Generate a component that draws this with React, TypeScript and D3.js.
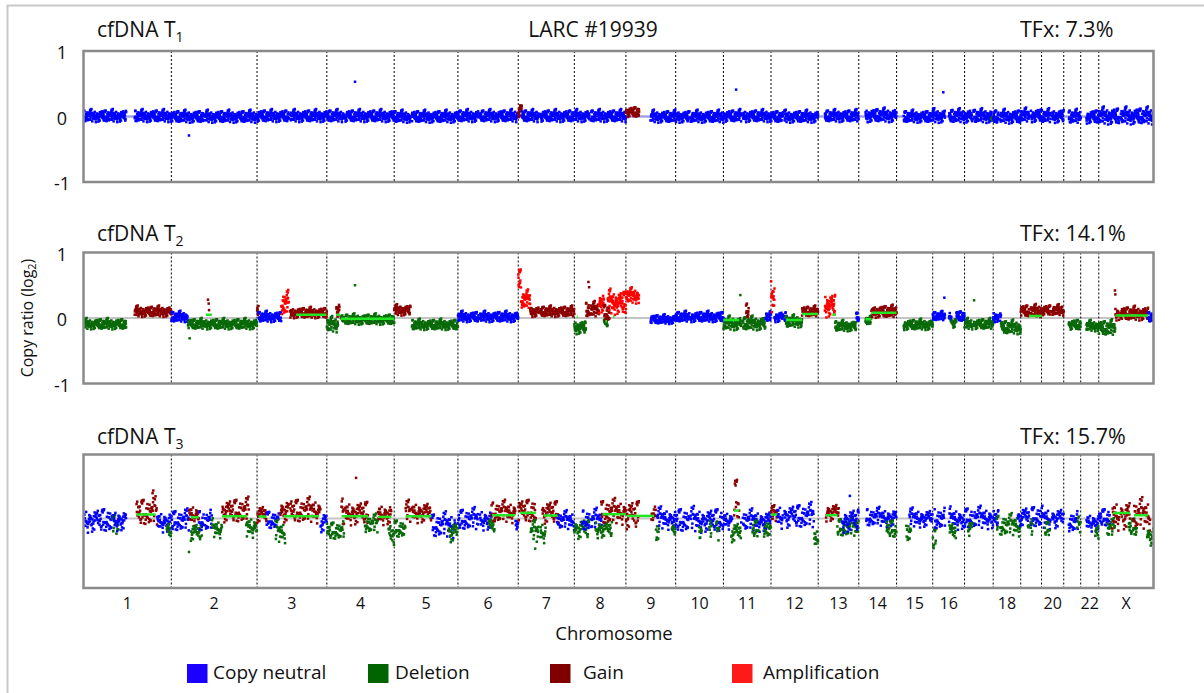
import React, { useMemo } from 'react';
import * as d3 from 'd3';

type Seg = [string, number, number, number, number, string];
type SegLine = [string, number, number, number];
type Outlier = [string, number, number, string];

// ---------------- DATA ----------------
const chromosomes = ['1','2','3','4','5','6','7','8','9','10','11','12','13','14','15','16','17','18','19','20','21','22','X'];
const chromLengthsMb = [249.25,243.2,198.0,191.15,180.9,171.1,159.1,146.4,141.2,135.5,135.0,133.85,115.2,107.35,102.5,90.35,81.2,78.1,59.1,63.0,48.1,51.3,155.3];
const chromTickLabels = ['1','2','3','4','5','6','7','8','9','10','11','12','13','14','15','16','','18','','20','','22','X'];
// unmappable regions (no bins): [chrom, startMb, endMb]
const gapsMb: [string, number, number][] = [
  ['1',121,145],['2',92,95],['3',90,94],['4',49,52],['5',46,50],['6',58,62],['7',58,62],['8',43,47],
  ['9',38,70],['10',39,42],['11',51,55],['12',34,38],['13',0,19],['14',0,19],['15',0,20],['16',35,46],
  ['17',22,25],['18',15,19],['19',24,28],['20',26,30],['21',0,14],['22',0,16],['X',58,62],
];

const sampleName = 'LARC #19939';
const panelNames = ['cfDNA T', 'cfDNA T', 'cfDNA T'];
const panelSubscripts = ['1', '2', '3'];
const tumorFractions = ['TFx: 7.3%', 'TFx: 14.1%', 'TFx: 15.7%'];
const yTickValues = [1, 0, -1];
const stateKeys = ['N', 'D', 'G', 'A'];
const stateNames = ['Copy neutral', 'Deletion', 'Gain', 'Amplification'];

// segments: [chrom, startMb, endMb, mean log2 ratio, spread, state]
const segmentsT1: Seg[] = [
  ['1',0,249.25,0.01,0.04,'N'], ['2',0,243.2,0.0,0.04,'N'], ['3',0,198,0.01,0.04,'N'],
  ['4',0,191.15,0.01,0.04,'N'], ['5',0,180.9,0.0,0.04,'N'], ['6',0,171.1,0.01,0.04,'N'],
  ['7',0,10,0.1,0.05,'G'], ['7',10,159.1,0.01,0.04,'N'], ['8',0,146.4,0.01,0.04,'N'],
  ['9',0,38,0.07,0.035,'G'], ['9',70,141.2,0.0,0.04,'N'], ['10',0,135.5,0.0,0.04,'N'],
  ['11',0,135,0.01,0.04,'N'], ['12',0,133.85,0.0,0.04,'N'], ['13',19,115.2,0.01,0.04,'N'],
  ['14',19,107.35,0.02,0.045,'N'], ['15',20,102.5,0.0,0.04,'N'], ['16',0,90.35,0.01,0.045,'N'],
  ['17',0,76,0.01,0.045,'N'], ['17',76,81.2,-0.05,0.02,'D'], ['18',0,78.1,0.0,0.045,'N'],
  ['19',0,59.1,0.02,0.045,'N'], ['20',0,63,0.01,0.045,'N'], ['21',14,48.1,0.0,0.045,'N'],
  ['22',16,51.3,0.0,0.045,'N'], ['X',0,155.3,0.01,0.055,'N'],
];
const segmentsT2: Seg[] = [
  ['1',0,121,-0.09,0.035,'D'], ['1',145,249.25,0.1,0.035,'G'],
  ['2',0,47,0.02,0.035,'N'], ['2',47,243.2,-0.09,0.035,'D'],
  ['3',0,4,0.12,0.04,'G'], ['3',4,69,0.02,0.035,'N'], ['3',69,92,0.22,0.08,'A'], ['3',92,198,0.08,0.035,'G'],
  ['4',0,32,-0.1,0.05,'D'], ['4',27,36,0.13,0.05,'G'], ['4',40,191.15,-0.02,0.035,'D'],
  ['5',0,46,0.12,0.035,'G'], ['5',46,180.9,-0.1,0.035,'D'],
  ['6',0,171.1,0.02,0.035,'N'],
  ['7',0,8,0.6,0.07,'A'], ['7',8,34,0.28,0.06,'A'], ['7',34,159.1,0.1,0.035,'G'],
  ['8',0,33,-0.14,0.045,'D'], ['8',33,70,0.13,0.05,'G'], ['8',70,84,0.24,0.07,'A'], ['8',84,95,-0.07,0.03,'D'],
  ['8',84,100,0.08,0.06,'G'], ['8',95,146.4,0.24,0.08,'A'],
  ['9',0,37,0.34,0.05,'A'], ['9',70,141.2,-0.02,0.03,'N'],
  ['10',0,135.5,0.02,0.035,'N'],
  ['11',0,120,-0.08,0.045,'D'], ['11',64,72,0.12,0.05,'G'], ['11',120,135,0.02,0.035,'N'],
  ['12',0,10,0.3,0.1,'A'], ['12',10,42,0.02,0.035,'N'], ['12',42,88,-0.05,0.04,'D'], ['12',88,133.85,0.1,0.035,'G'],
  ['13',17,48,0.2,0.08,'A'], ['13',48,108,-0.12,0.035,'D'], ['13',108,115.2,0.02,0.03,'N'],
  ['14',19,36,-0.04,0.03,'D'], ['14',36,107.35,0.1,0.04,'G'],
  ['15',20,102.5,-0.1,0.035,'D'],
  ['16',0,53,0.03,0.03,'N'], ['16',53,67,-0.07,0.035,'D'], ['16',67,90.35,0.03,0.035,'N'],
  ['17',0,81.2,-0.09,0.035,'D'],
  ['18',0,22,0.02,0.035,'N'], ['18',22,78.1,-0.14,0.045,'D'],
  ['19',0,59.1,0.11,0.04,'G'], ['20',0,63,0.12,0.035,'G'],
  ['21',14,48.1,-0.1,0.035,'D'], ['22',16,51.3,-0.12,0.035,'D'],
  ['X',0,47,-0.15,0.05,'D'], ['X',47,140,0.07,0.045,'G'], ['X',140,155.3,0.02,0.035,'N'],
];
const segmentsT3: Seg[] = [
  ['1',0,85,-0.02,0.08,'N'], ['1',82,100,-0.1,0.06,'D'], ['1',85,121,-0.02,0.07,'N'], ['1',150,209,0.1,0.09,'G'],
  ['1',209,247,-0.04,0.07,'N'], ['1',236,249.25,-0.2,0.07,'D'],
  ['2',0,50,-0.03,0.07,'N'], ['2',50,78,0.06,0.07,'G'], ['2',55,87,-0.2,0.06,'D'], ['2',78,115,-0.03,0.07,'N'],
  ['2',115,144,-0.15,0.06,'D'], ['2',144,220,0.12,0.08,'G'], ['2',212,243.2,-0.12,0.07,'D'],
  ['3',0,27,0.07,0.06,'G'], ['3',27,62,-0.02,0.06,'N'], ['3',52,80,-0.2,0.07,'D'], ['3',66,180,0.12,0.08,'G'],
  ['3',180,198,-0.05,0.07,'N'],
  ['4',0,52,-0.18,0.06,'D'], ['4',41,117,0.09,0.08,'G'], ['4',108,145,-0.08,0.06,'D'], ['4',145,183,0.07,0.07,'G'],
  ['4',175,191.15,-0.25,0.08,'D'],
  ['5',0,32,-0.15,0.06,'D'], ['5',32,106,0.1,0.07,'G'], ['5',106,174,-0.1,0.08,'N'], ['5',155,180.9,-0.2,0.07,'D'],
  ['6',0,95,-0.01,0.07,'N'], ['6',87,106,-0.1,0.05,'D'], ['6',95,163,0.1,0.07,'G'], ['6',163,171.1,-0.05,0.05,'N'],
  ['7',0,50,0.12,0.08,'G'], ['7',35,78,-0.2,0.07,'D'], ['7',68,116,0.1,0.08,'G'], ['7',110,159.1,-0.03,0.06,'N'],
  ['8',0,42,-0.15,0.07,'D'], ['8',22,78,-0.02,0.07,'N'], ['8',60,107,-0.15,0.06,'D'], ['8',76,146.4,0.1,0.08,'G'],
  ['9',0,37,0.06,0.1,'G'], ['9',72,85,0.1,0.06,'G'], ['9',85,94,-0.2,0.07,'D'], ['9',88,141.2,0.0,0.07,'N'],
  ['9',130,141.2,-0.2,0.06,'D'],
  ['10',0,135.5,-0.02,0.08,'N'], ['10',66,74,-0.2,0.06,'D'], ['10',95,102,-0.18,0.06,'D'], ['10',115,123,-0.2,0.06,'D'],
  ['11',0,25,-0.02,0.06,'N'], ['11',22,50,-0.2,0.07,'D'], ['11',30,45,0.3,0.14,'G'], ['11',50,135,-0.03,0.07,'N'],
  ['11',82,100,-0.15,0.06,'D'], ['11',115,135,-0.15,0.06,'D'],
  ['12',0,17,0.07,0.05,'G'], ['12',17,122,0.04,0.08,'N'], ['12',122,133.85,-0.3,0.07,'D'],
  ['13',22,59,0.1,0.06,'G'], ['13',54,115.2,-0.13,0.06,'D'], ['13',68,115.2,-0.02,0.08,'N'],
  ['14',21,107.35,0.02,0.06,'N'], ['14',78,107.35,-0.15,0.06,'D'],
  ['15',27,41,-0.2,0.07,'D'], ['15',36,102.5,0.01,0.06,'N'],
  ['16',0,10,-0.3,0.08,'D'], ['16',5,90.35,0.0,0.07,'N'], ['16',47,66,-0.2,0.07,'D'],
  ['17',0,81.2,0.01,0.07,'N'], ['17',10,24,-0.15,0.06,'D'],
  ['18',0,19,0.01,0.06,'N'], ['18',10,78.1,-0.1,0.07,'D'], ['18',70,78.1,0.02,0.06,'N'],
  ['19',0,59.1,0.03,0.07,'N'], ['19',20,34,-0.15,0.06,'D'],
  ['20',0,63,0.01,0.07,'N'], ['20',9,23,-0.15,0.05,'D'],
  ['21',14,40,-0.05,0.07,'N'], ['21',38,48.1,-0.1,0.05,'D'],
  ['22',16,51.3,-0.05,0.06,'N'], ['22',41,51.3,-0.25,0.08,'D'],
  ['X',0,32,0.02,0.06,'N'], ['X',24,46,-0.15,0.06,'D'], ['X',38,89,0.06,0.1,'G'], ['X',84,109,-0.12,0.06,'D'],
  ['X',98,146,0.06,0.1,'G'], ['X',137,155.3,-0.25,0.07,'D'],
];

// called segment means drawn as bright green lines: [chrom, startMb, endMb, value]
const segLinesT1: SegLine[] = [];
const segLinesT2: SegLine[] = [
  ['2',98,115,0.05], ['3',111,197,0.05], ['4',27,38,0.05], ['4',40,191,-0.01], ['8',7,10,0.02], ['8',88,93,-0.05],
  ['8',110,114,0.02], ['11',0,45,-0.03], ['12',42,88,-0.03], ['12',88,133,0.06], ['13',40,50,0.05],
  ['14',19,36,-0.02], ['14',36,107,0.08], ['19',24,59,0.03], ['X',47,140,0.04],
];
const segLinesT3: SegLine[] = [
  ['1',150,205,0.06], ['2',55,78,0.02], ['2',144,215,0.035], ['3',4,27,0.03], ['3',75,176,0.035],
  ['4',42,117,0.035], ['4',145,183,0.025], ['5',32,106,0.035], ['6',97,163,0.05], ['7',5,50,0.085],
  ['7',72,112,0.045], ['8',80,146,0.065], ['9',3,80,0.04], ['11',30,45,0.12], ['12',0,17,0.06],
  ['13',22,55,0.05], ['X',40,89,0.085], ['X',100,140,0.05],
];

// isolated bins: [chrom, positionMb, value, state]
const outliersT1: Outlier[] = [['2',50,-0.29,'N'], ['4',80,0.53,'N'], ['11',36,0.41,'N'], ['16',30,0.37,'N']];
const outliersT2: Outlier[] = [
  ['2',104,0.28,'G'], ['2',106,0.22,'G'], ['2',107,0.12,'G'], ['2',52,-0.31,'D'], ['4',80,0.5,'D'],
  ['8',40,0.55,'G'], ['8',42,0.47,'G'], ['11',48,0.35,'D'], ['16',33,0.31,'N'], ['17',27,0.27,'D'],
  ['X',46,0.42,'G'], ['X',47,0.36,'G'],
];
const outliersT3: Outlier[] = [
  ['1',198,0.42,'G'], ['1',196,0.38,'G'], ['4',83,0.61,'G'], ['13',90,0.34,'N'], ['2',50,-0.5,'D'], ['7',48,-0.45,'D'],
];

// bin-to-bin scatter pattern (standardised deviations)
const binScatter = [
  0.3,-1.2,0.8,-0.4,1.6,-0.9,0.1,-2.1,0.6,1.1,-0.2,-1.5,0.9,0.4,-0.7,2.0,-0.3,-1.0,1.3,0.0,
  -0.6,0.7,-1.8,0.2,1.0,-0.5,1.4,-1.1,0.5,-0.1,-2.4,0.8,1.9,-0.8,0.3,-1.3,0.6,-0.2,1.2,-0.9,
  0.1,2.3,-0.4,-1.6,0.9,-0.7,0.4,1.5,-1.4,0.2,-0.3,1.1,-1.9,0.7,0.0,-1.0,1.7,-0.5,0.5,-1.2,
  0.3,2.6,-0.6,-0.1,1.0,-1.7,0.8,-0.8,0.2,1.4,-2.2,0.6,-0.4,1.2,-1.1,0.1,-0.2,0.9,-1.5,1.8,
  -0.7,0.4,-0.9,1.3,-0.3,0.0,-1.3,0.7,2.1,-0.5,-1.8,1.1,0.5,-0.6,-1.4,0.3,1.6,-1.0,0.2,-2.0,0.8,
];
const binSizesMb = [0.6, 0.6, 1.0];

// ---------------- STYLE / LAYOUT ----------------
const stateColors: Record<string, string> = { N: '#0000ff', D: '#0a6a0a', G: '#8b0000', A: '#ff0000' };
const legendColors: Record<string, string> = { N: '#1a00ff', D: '#006400', G: '#800000', A: '#ff1a1a' };
const FONT = '"Open Sans", "DejaVu Sans", sans-serif';
const plotLeft = 83.5;
const plotRight = 1153.5;
const panelLayout = [
  { top: 51, bottom: 182, domain: [-1, 1], ticks: true, titleY: 37 },
  { top: 252.5, bottom: 383.5, domain: [-1, 1], ticks: true, titleY: 241 },
  { top: 454.5, bottom: 588, domain: [-1.04, 0.96], ticks: false, titleY: 444 },
];

const allSegments = [segmentsT1, segmentsT2, segmentsT3];
const allSegLines = [segLinesT1, segLinesT2, segLinesT3];
const allOutliers = [outliersT1, outliersT2, outliersT3];

const chromOffsets: number[] = [];
chromLengthsMb.reduce((acc, l, i) => { chromOffsets[i] = acc; return acc + l; }, 0);
const genomeLength = d3.sum(chromLengthsMb);

function inGap(c: string, pos: number) {
  return gapsMb.some(([gc, s, e]) => gc === c && pos >= s && pos < e);
}

function buildPoints(segs: Seg[], outs: Outlier[], p: number) {
  const pts: { g: number; v: number; st: string }[] = [];
  const bin = binSizesMb[p];
  let k = p * 23;
  segs.forEach(([c, s, e, m, sd, st]) => {
    const ci = chromosomes.indexOf(c);
    for (let pos = s + bin / 2; pos < e; pos += bin) {
      if (inGap(c, pos)) continue;
      const j = binScatter[(k * 37 + 5) % binScatter.length];
      k++;
      pts.push({ g: chromOffsets[ci] + pos, v: m + sd * j, st });
    }
  });
  outs.forEach(([c, pos, v, st]) => {
    pts.push({ g: chromOffsets[chromosomes.indexOf(c)] + pos, v, st });
  });
  return pts;
}

export default function App() {
  const x = d3.scaleLinear().domain([0, genomeLength]).range([plotLeft, plotRight]);
  const panels = useMemo(
    () => allSegments.map((segs, p) => buildPoints(segs, allOutliers[p], p)),
    []
  );
  const boundaries = chromOffsets.slice(1);

  return (
    <svg width={1204} height={693} style={{ position: 'absolute', left: 0, top: 0, background: '#fff' }}
      fontFamily={FONT}>
      <rect x={7.5} y={5.5} width={1210} height={720} fill="#fff" stroke="#c8c8c8" strokeWidth={2} />
      <defs>
        {panelLayout.map((L, p) => (
          <clipPath id={`clip${p}`} key={p}>
            <rect x={plotLeft} y={L.top} width={plotRight - plotLeft} height={L.bottom - L.top} />
          </clipPath>
        ))}
      </defs>
      {panelLayout.map((L, p) => {
        const y = d3.scaleLinear().domain(L.domain).range([L.bottom, L.top]);
        return (
          <g key={p}>
            <text x={97} y={L.titleY} fontSize={21} fill="#111">
              {panelNames[p]}
              <tspan fontSize={14} dy={5}>{panelSubscripts[p]}</tspan>
            </text>
            <text x={1020} y={L.titleY} fontSize={21.5} fill="#111">{tumorFractions[p]}</text>
            {p === 0 && (
              <text x={593} y={L.titleY} fontSize={21} fill="#111" textAnchor="middle">{sampleName}</text>
            )}
            {L.ticks && yTickValues.map((t) => (
              <text key={t} x={62} y={y(t) + 1} fontSize={18} fill="#111" textAnchor="middle" dominantBaseline="central">
                {t}
              </text>
            ))}
            <line x1={plotLeft} x2={plotRight} y1={y(0)} y2={y(0)} stroke="#c4c4c4" strokeWidth={2} />
            {p === 0 && (
              <line x1={plotLeft} x2={plotRight} y1={y(0)} y2={y(0)} stroke="#9a9af0" strokeWidth={2} />
            )}
            {boundaries.map((b, i) => (
              <line key={i} x1={x(b)} x2={x(b)} y1={L.top} y2={L.bottom} stroke="#000" strokeWidth={1}
                strokeDasharray="2,2" />
            ))}
            <g clipPath={`url(#clip${p})`}>
              {panels[p].map((d, i) => (
                <rect key={i} x={x(d.g) - 1.25} y={y(d.v) - 1.25} width={2.5} height={2.5} fill={stateColors[d.st]} />
              ))}
              {allSegLines[p].map(([c, s, e, v], i) => {
                const o = chromOffsets[chromosomes.indexOf(c)];
                return (
                  <line key={i} x1={x(o + s)} x2={x(o + e)} y1={y(v)} y2={y(v)} stroke="#22e622" strokeWidth={2.5} />
                );
              })}
            </g>
            <rect x={plotLeft} y={L.top} width={plotRight - plotLeft} height={L.bottom - L.top} fill="none"
              stroke="#8a8a8a" strokeWidth={2.5} />
          </g>
        );
      })}
      {chromTickLabels.map((lab, i) => (
        <text key={i} x={x(chromOffsets[i] + chromLengthsMb[i] / 2)} y={603} fontSize={16} fill="#111"
          textAnchor="middle" dominantBaseline="central">{lab}</text>
      ))}
      <text x={614} y={632} fontSize={18.5} fill="#111" textAnchor="middle" dominantBaseline="central">Chromosome</text>
      <text transform="translate(27,318) rotate(-90)" fontSize={16} fill="#111" textAnchor="middle"
        dominantBaseline="central">
        Copy ratio (log<tspan fontSize={11} dy={4}>2</tspan><tspan dy={-4}>)</tspan>
      </text>
      {stateKeys.map((k, i) => {
        const lx = [187, 368, 550, 732][i];
        const tx = [213, 395, 583, 763][i];
        return (
          <g key={k}>
            <rect x={lx} y={664} width={20.5} height={19} fill={legendColors[k]} />
            <text x={tx} y={672} fontSize={19} fill="#111" dominantBaseline="central">{stateNames[i]}</text>
          </g>
        );
      })}
    </svg>
  );
}
